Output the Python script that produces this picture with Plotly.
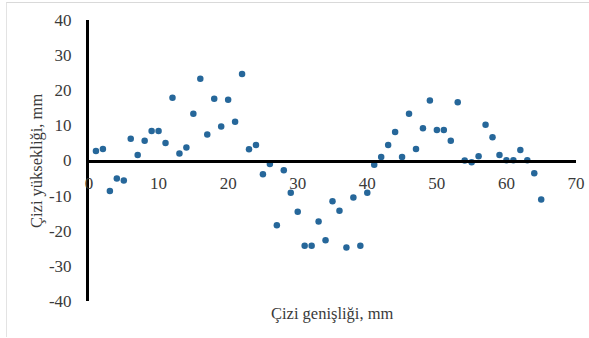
import plotly.graph_objects as go

x_vals = list(range(1, 66))
y_vals = [2.7, 3.3, -8.7, -5.1, -5.7, 6.2, 1.6, 5.6, 8.4, 8.4,
          5.0, 17.9, 2.0, 3.7, 13.3, 23.3, 7.4, 17.6, 9.7, 17.3,
          11.0, 24.6, 3.2, 4.4, -3.9, -1.0, -18.4, -2.8, -9.2, -14.6,
          -24.3, -24.3, -17.4, -22.7, -11.6, -14.3, -24.8, -10.5, -24.3, -9.2,
          -1.2, 1.0, 4.4, 8.1, 1.0, 13.3, 3.3, 9.2, 17.1, 8.7,
          8.7, 5.6, 16.6, 0.0, -0.5, 1.2, 10.2, 6.6, 1.6, 0.1,
          0.1, 3.0, 0.1, -3.6, -11.1]

x_ticks = [0, 10, 20, 30, 40, 50, 60, 70]
y_ticks = [-40, -30, -20, -10, 0, 10, 20, 30, 40]
x_title = "Çizi genişliği, mm"
y_title = "Çizi yüksekliği, mm"

FONT = "Liberation Serif"
TXT = "#3a3a3a"

fig = go.Figure()
fig.add_trace(go.Scatter(
    x=x_vals, y=y_vals, mode="markers",
    marker=dict(color="#26679a", size=6.5, line=dict(width=0)),
    showlegend=False, cliponaxis=False, hoverinfo="skip",
))

L, R, T, B = 89, 13, 20, 37
W, H = 589, 338
pw, ph = W - L - R, H - T - B

fig.update_layout(
    template="none",
    width=W, height=H,
    margin=dict(l=L, r=R, t=T, b=B, pad=0, autoexpand=False),
    paper_bgcolor="white", plot_bgcolor="white",
    font=dict(family=FONT, size=17, color=TXT),
    xaxis=dict(
        range=[0, 70], tickvals=x_ticks, ticktext=[str(v) for v in x_ticks],
        showgrid=False, zeroline=False, automargin=False, fixedrange=True,
        showline=True, linecolor="black", linewidth=3,
        anchor="free", position=0.5,
        ticks="outside", ticklen=6, tickcolor="rgba(0,0,0,0)",
        tickfont=dict(family=FONT, size=17, color=TXT),
    ),
    yaxis=dict(
        range=[-40, 40], tickvals=y_ticks, ticktext=[str(v) for v in y_ticks],
        showgrid=False, zeroline=False, automargin=False, fixedrange=True,
        showline=True, linecolor="black", linewidth=3,
        ticks="outside", ticklen=11, tickcolor="rgba(0,0,0,0)",
        tickfont=dict(family=FONT, size=17, color=TXT),
    ),
    annotations=[
        dict(text=x_title, xref="paper", yref="paper",
             x=(332 - L) / pw, y=(H - B - 313) / ph,
             xanchor="center", yanchor="middle", showarrow=False,
             font=dict(family=FONT, size=16.5, color=TXT)),
        dict(text=y_title, xref="paper", yref="paper",
             x=(36 - L) / pw, y=(H - B - 161) / ph, textangle=-90,
             xanchor="center", yanchor="middle", showarrow=False,
             font=dict(family=FONT, size=16.5, color=TXT)),
    ],
    shapes=[
        dict(type="line", xref="paper", yref="paper",
             x0=(6 - L) / pw, x1=(W + 5 - L) / pw,
             y0=(H - B - 2.5) / ph, y1=(H - B - 2.5) / ph,
             line=dict(color="#d9d9d9", width=1)),
        dict(type="line", xref="paper", yref="paper",
             x0=(6.5 - L) / pw, x1=(6.5 - L) / pw,
             y0=(H - B - 2.5) / ph, y1=(H - B - 337) / ph,
             line=dict(color="#e3e3e3", width=1)),
    ],
)

fig.write_html(
    "out.html",
    config={"displayModeBar": False, "staticPlot": True},
    post_script="document.body.style.margin='0';document.body.style.overflow='hidden';",
)
